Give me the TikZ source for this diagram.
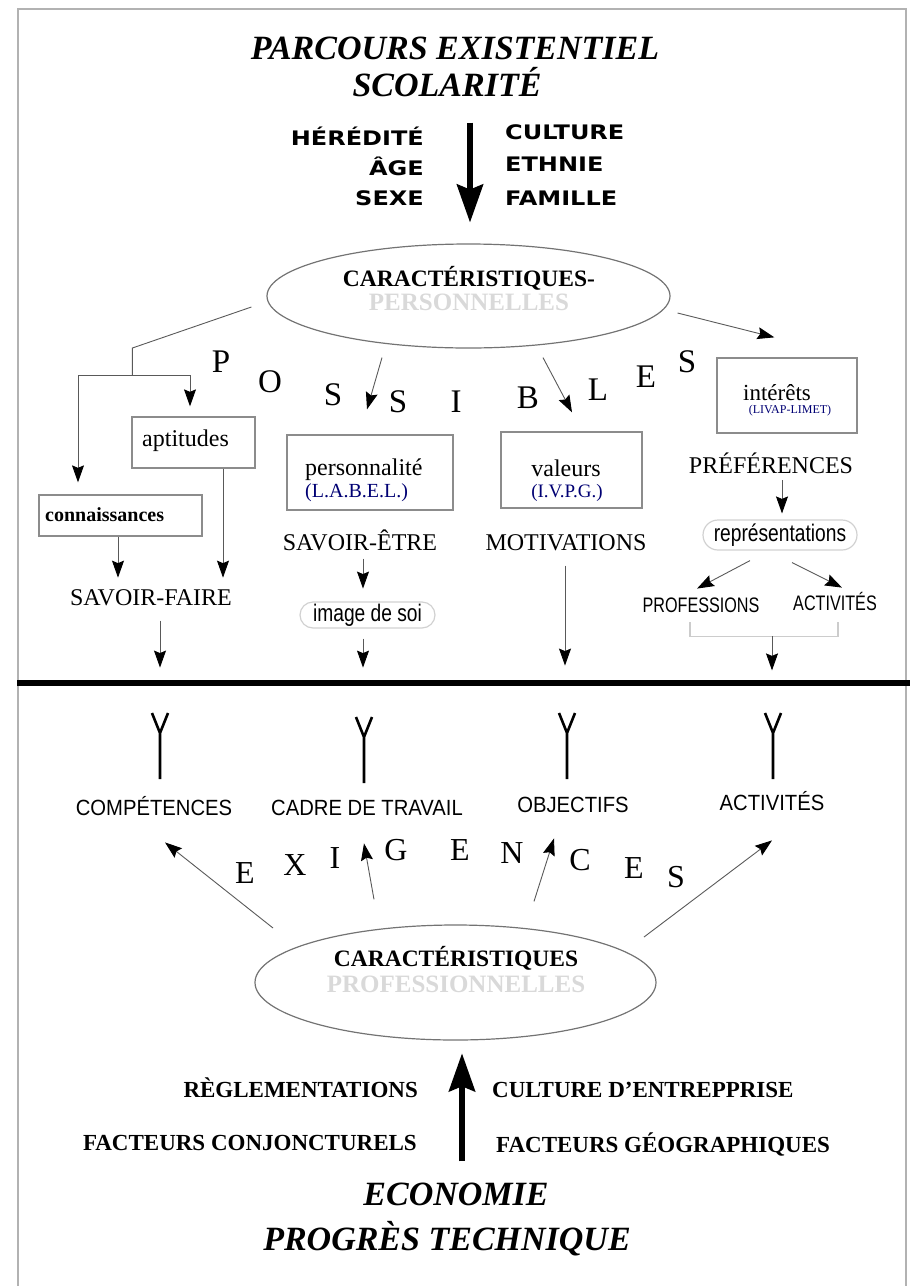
\documentclass[tikz,border=0pt]{standalone}
\usepackage{graphicx}
\usepackage{fontspec}
\setmainfont{Liberation Serif}
\newfontfamily\arialf{Liberation Sans}
\newfontfamily\heavyf{DejaVu Sans}
\usetikzlibrary{arrows.meta,shapes.geometric}
\newcommand{\widen}[1]{\scalebox{1.2}[1]{#1}}
\newcommand{\squeeze}[2][0.8]{\scalebox{#1}[1]{#2}}
\begin{document}
\begin{tikzpicture}[x=1pt,y=-1pt,
  every node/.style={inner sep=0pt},
  bigtitle/.style={font=\fontsize{34}{40}\selectfont\bfseries\itshape, anchor=base},
  heavy/.style={font=\heavyf\bfseries\fontsize{20}{24}\selectfont},
  serif/.style={font=\fontsize{24}{28}\selectfont, anchor=base},
  small/.style={font=\fontsize{20}{24}\selectfont, text=blue!45!black, anchor=base},
  sans/.style={font=\arialf\fontsize{22}{26}\selectfont, anchor=base},
  ctitle/.style={font=\fontsize{23.5}{28}\selectfont\bfseries, anchor=base},
  ghost/.style={font=\fontsize{25}{28}\selectfont\bfseries, text=black!15, anchor=base},
  factor/.style={font=\fontsize{23}{28}\selectfont\bfseries},
  letter/.style={font=\fontsize{33}{36}\selectfont, anchor=base},
  box/.style={draw=black!45, line width=1.3pt, rectangle},
  pill/.style={draw=black!18, line width=1.2pt, rectangle, rounded corners=13pt,
    font=\arialf\fontsize{24}{28}\selectfont},
  oval/.style={ellipse, draw=black!55, line width=1.2pt},
  conn/.style={draw=black!65, line width=0.9pt,
    -{Stealth[length=17pt,width=12pt,inset=2.5pt,color=black]}},
  bigarr/.style={line width=6pt, -{Stealth[length=38pt,width=26pt,inset=5pt]}},
  forkline/.style={line width=2.6pt},
  brack/.style={draw=black!20, line width=1.2pt}]
\useasboundingbox (0,0) rectangle (910,1286);

% frame and separation
\draw[black!30, line width=2pt] (18,1286) -- (18,9) -- (906,9) -- (906,1286);
\coordinate (barL) at (17,683);
\coordinate (barR) at (910,683);
\draw[line width=6pt] (barL) -- (barR);

% upper half
\node[bigtitle] (t1) at (455,59) {PARCOURS EXISTENTIEL};
\node[bigtitle] (t2) at (447,96) {SCOLARITÉ};
\node[heavy, anchor=base east] (her) at (424,145) {\widen{HÉRÉDITÉ}};
\node[heavy, anchor=base east] (age) at (424,175) {\widen{ÂGE}};
\node[heavy, anchor=base east] (sex) at (424,205) {\widen{SEXE}};
\node[heavy, anchor=base west] (cul) at (505,139) {\widen{CULTURE}};
\node[heavy, anchor=base west] (eth) at (505,171) {\widen{ETHNIE}};
\node[heavy, anchor=base west] (fam) at (505,205) {\widen{FAMILLE}};

\node[oval, minimum width=403pt, minimum height=104pt] (cp) at (468.5,296) {};
\node[ctitle] (cp-t) at (469,286) {CARACTÉRISTIQUES-};
\node[ghost] (cp-g) at (469,310) {PERSONNELLES};
\draw[bigarr] ([shift={(23,26)}]t2.south) -- ++(0,100);

\foreach \l/\x/\y [count=\i] in {P/221/372, O/270/392, S/333/405, S/398/412,
    I/456/412, B/528/408, L/598/400, E/646/387, S/687/372}
  \node[letter] (pos\i) at (\x,\y) {\l};

\node[box, minimum width=123pt, minimum height=51pt] (aptbox) at (193.5,442.5) {};
\node[serif, anchor=base west] (apt) at (142,446) {aptitudes};
\node[box, minimum width=163pt, minimum height=41pt] (conbox) at (120.5,515.5) {};
\node[serif, anchor=base west, font=\fontsize{20}{24}\selectfont\bfseries] (con) at (45,521) {connaissances};
\node[box, minimum width=166pt, minimum height=75pt] (persbox) at (370,472.5) {};
\node[serif, anchor=base west] (pers) at (305,475) {personnalité};
\node[small, anchor=base west] (label) at (305,497) {(L.A.B.E.L.)};
\node[box, minimum width=141pt, minimum height=76pt] (valbox) at (571.5,470) {};
\node[serif] (val) at (566,476) {valeurs};
\node[small, font=\fontsize{19}{22}\selectfont] (ivpg) at (567,497) {(I.V.P.G.)};
\node[box, minimum width=140pt, minimum height=75pt] (intbox) at (787,395.5) {};
\node[serif, font=\fontsize{23}{26}\selectfont] (int) at (777,400) {intérêts};
\node[small, font=\fontsize{12}{14}\selectfont] (livap) at (790,413) {(LIVAP-LIMET)};

\node[serif] (savfaire) at (151,605) {SAVOIR-FAIRE};
\node[serif] (savetre) at (360,550) {SAVOIR-ÊTRE};
\node[serif] (motiv) at (566,550) {MOTIVATIONS};
\node[serif] (pref) at (771,473) {PRÉFÉRENCES};
\node[pill, minimum width=135pt, minimum height=26pt] (imgsoi) at (367.5,615) {\squeeze{image de soi}};
\node[pill, minimum width=154pt, minimum height=30pt, rounded corners=15pt] (repr) at (780,535) {\squeeze{représentations}};
\node[sans, font=\arialf\fontsize{21}{24}\selectfont] (prof) at (701,612) {\squeeze[0.77]{PROFESSIONS}};
\node[sans, font=\arialf\fontsize{21}{24}\selectfont] (act) at (835,610) {\squeeze[0.77]{ACTIVITÉS}};

\draw[draw=black!65, line width=0.9pt] ([shift={(-15,11)}]cp.west) -- ++(-119,41) -- ++(0,27) coordinate (fork);
\draw[conn, shorten >=12pt] (fork) -| ([xshift=-42.5pt]conbox.north);
\draw[conn, shorten >=10pt] (fork) -| ([xshift=-3.5pt]aptbox.north);
\draw[conn] ([shift={(-86.5,9)}]cp.south) -- ([shift={(-3,-25)}]persbox.north);
\draw[conn] ([shift={(74.5,9)}]cp.south) -- ([shift={(0.5,-19)}]valbox.north);
\draw[conn] ([shift={(7,17)}]cp.east) -- ([shift={(58,-20)}]intbox.north west);
\draw[conn] ([xshift=-2.5pt]conbox.south) -- ++(0,41);
\draw[conn] ([xshift=29.5pt]aptbox.south) -- ++(0,109);
\draw[conn] ([shift={(9,15)}]savfaire.south) -- ++(0,47);
\draw[conn] ([shift={(3,8)}]savetre.south) -- ++(0,30);
\draw[conn] ([shift={(-4.5,10)}]imgsoi.south) -- ++(0,29);
\draw[conn] ([shift={(-1,15)}]motiv.south) -- ++(0,100);
\draw[conn] ([shift={(11,7)}]pref.south) -- ++(0,33);
\draw[conn] ([shift={(-30,10)}]repr.south) -- ++(-53,28);
\draw[conn] ([shift={(12,12)}]repr.south) -- ++(50,25);
\draw[brack] ([shift={(-11,10)}]prof.south) -- ++(0,14) coordinate (brk) -| ([shift={(3,12)}]act.south);
\draw[conn] ([xshift=82pt]brk) -- ++(0,34);

% lower half
\foreach \x/\y in {160/713, 364/717, 567/713, 773/713}
  \draw[forkline] ({\x-8},\y) -- (\x,\y+20) -- ({\x+8},\y) (\x,\y+20) -- (\x,\y+66);

\node[sans] (comp) at (154,815) {\squeeze[0.92]{COMPÉTENCES}};
\node[sans] (cadre) at (367,815) {\squeeze[0.92]{CADRE DE TRAVAIL}};
\node[sans] (obj) at (573,812) {\squeeze[0.92]{OBJECTIFS}};
\node[sans] (act2) at (772,810) {\squeeze[0.92]{ACTIVITÉS}};

\foreach \l/\x/\y [count=\i] in {E/245/883, X/295/875, I/335/868, G/396/860,
    E/460/860, N/512/863, C/580/870, E/634/878, S/676/887}
  \node[letter, font=\fontsize{32}{36}\selectfont] (exi\i) at (\x,\y) {\l};

\node[oval, minimum width=401pt, minimum height=115pt] (cpro) at (455.5,982.5) {};
\node[ctitle] (cpro-t) at (456,966) {CARACTÉRISTIQUES};
\node[ghost] (cpro-g) at (456,992) {PROFESSIONNELLES};

\draw[conn] ([shift={(-182.5,-54.5)}]cpro.center) -- ([shift={(11,27)}]comp.south);
\draw[conn] ([shift={(-81.5,-25)}]cpro.north) -- ([shift={(-3,28)}]cadre.south);
\draw[conn] ([shift={(78.5,-23)}]cpro.north) -- ([shift={(-19,26)}]obj.south);
\draw[conn] ([shift={(188.5,-45.5)}]cpro.center) -- ([shift={(0,30)}]act2.south);

\node[factor, anchor=base east] (regl) at (418,1097) {RÈGLEMENTATIONS};
\node[factor, anchor=base west] (cent) at (492,1097) {CULTURE D’ENTREPPRISE};
\node[factor, anchor=base east] (fconj) at (417,1150) {FACTEURS CONJONCTURELS};
\node[factor, anchor=base west] (fgeo) at (496,1152) {FACTEURS GÉOGRAPHIQUES};

\node[bigtitle] (eco) at (456,1205) {ECONOMIE};
\node[bigtitle] (prog) at (447,1250) {PROGRÈS TECHNIQUE};
\draw[bigarr] ([shift={(6,-21)}]eco.north) -- ++(0,-108);
\end{tikzpicture}
\end{document}
